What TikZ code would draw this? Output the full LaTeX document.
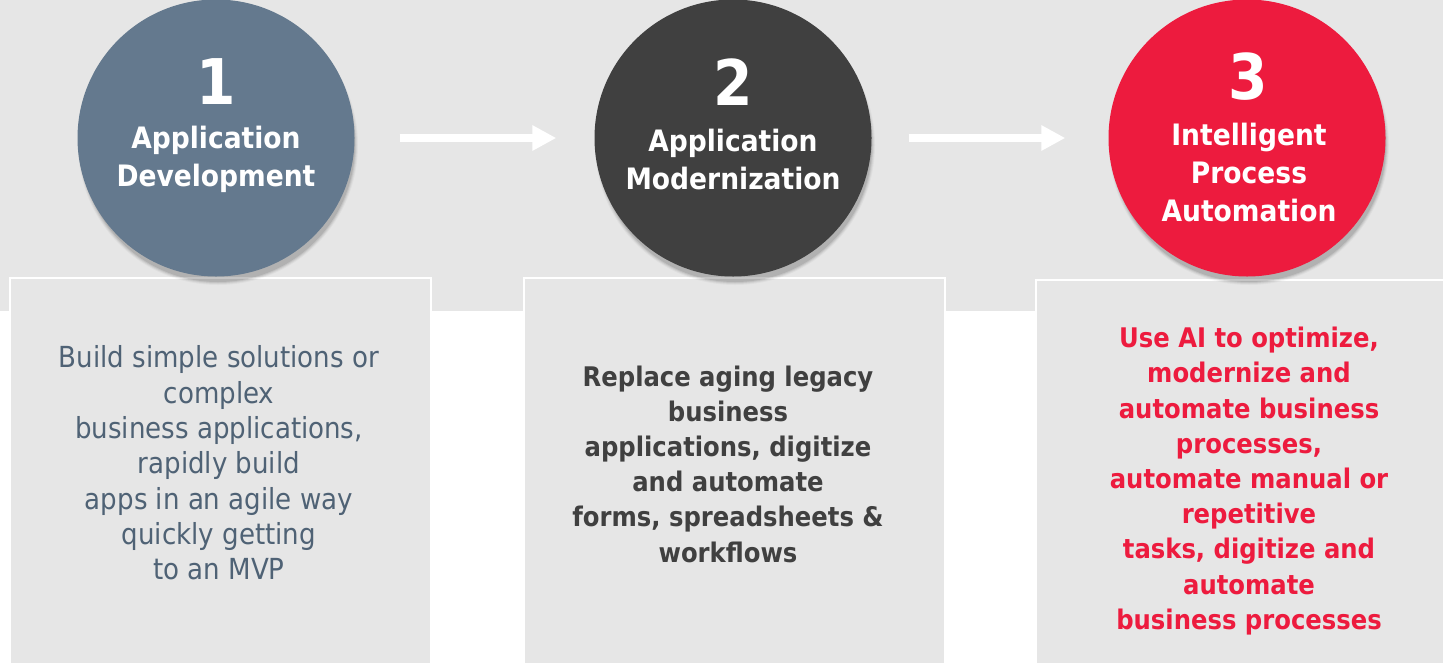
\documentclass[tikz,border=0pt]{standalone}
\usepackage{fontspec}
\setmainfont{DejaVu Sans Condensed}
\usetikzlibrary{arrows.meta}
\definecolor{band}{HTML}{E6E6E6}
\definecolor{slate}{HTML}{64798E}
\definecolor{slatetext}{HTML}{4F6275}
\definecolor{darkc}{HTML}{404040}
\definecolor{redc}{HTML}{ED1B3E}
\tikzset{
  panel/.style={fill=band, draw=white, line width=2.5pt},
  stepcircle/.style={circle, minimum size=277pt, inner sep=0pt},
  numlabel/.style={text=white, font=\fontsize{63}{63}\selectfont\bfseries},
  titlelabel/.style={text=white, align=center, font=\fontsize{29.5}{38}\selectfont\bfseries},
  bodylabel/.style={align=center, font=\fontsize{29}{35.3}\selectfont},
  boldbody/.style={align=center, font=\fontsize{27}{35.2}\selectfont\bfseries},
  flow/.style={draw=white, line width=8pt, -{Triangle[width=24pt,length=24pt]}}
}
\begin{document}
\begin{tikzpicture}[x=1pt,y=-1pt]
\useasboundingbox (0,0) rectangle (1443,662);
\clip (0,0) rectangle (1443,662);
\fill[band] (0,0) rectangle (1443,311);
% panels
\draw[panel] (10,278) rectangle (431,680);
\draw[panel] (524,278) rectangle (945,680);
\draw[panel] (1036,280) rectangle (1460,680);
% shadows
\foreach \cx in {216,733,1247}{
  \foreach \r/\o in {140/0.03,139/0.05,138/0.07,137/0.09}{
    \fill[black,opacity=\o] (\cx+2,145) circle (\r);
  }
}
% circles
\node[stepcircle, fill=slate] (c1) at (216,138) {};
\node[stepcircle, fill=darkc] (c2) at (733,138) {};
\node[stepcircle, fill=redc] (c3) at (1247,138) {};
% numbers
\node[numlabel] (n1) at (216,82) {1};
\node[numlabel] (n2) at (733,82) {2};
\node[numlabel] (n3) at (1248,77) {3};
% titles
\node[titlelabel] (t1) at (216,159) {Application\\Development};
\node[titlelabel] (t2) at (733,159) {Application\\Modernization};
\node[titlelabel] (t3) at (1249,172) {Intelligent\\Process\\Automation};
% body texts
\node[bodylabel, text=slatetext] (b1) at (219,463) {Build simple solutions or\\complex\\business applications,\\rapidly build\\apps in an agile way\\quickly getting\\to an MVP};
\node[boldbody, text=darkc] (b2) at (728,464) {Replace aging legacy\\business\\applications, digitize\\and automate\\forms, spreadsheets \&\\workflows};
\node[boldbody, text=redc] (b3) at (1249,481) {Use AI to optimize,\\modernize and\\automate business\\processes,\\automate manual or\\repetitive\\tasks, digitize and\\automate\\business processes};
% arrows
\draw[flow, shorten <=45pt, shorten >=38pt] (c1.east) -- (c2.west);
\draw[flow, shorten <=37pt, shorten >=43pt] (c2.east) -- (c3.west);
\end{tikzpicture}
\end{document}
